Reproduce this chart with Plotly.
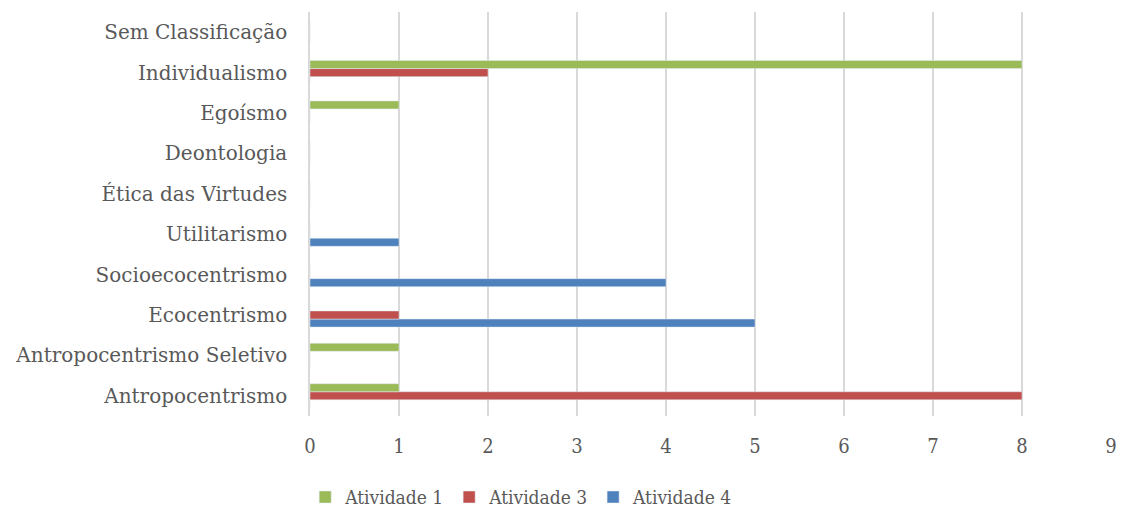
import plotly.graph_objects as go

categories = ["Antropocentrismo", "Antropocentrismo Seletivo", "Ecocentrismo",
              "Socioecocentrismo", "Utilitarismo", "Ética das Virtudes",
              "Deontologia", "Egoísmo", "Individualismo", "Sem Classificação"]
atividade_1 = [1, 1, 0, 0, 0, 0, 0, 1, 8, 0]
atividade_3 = [8, 0, 1, 0, 0, 0, 0, 0, 2, 0]
atividade_4 = [0, 0, 5, 4, 1, 0, 0, 0, 0, 0]
x_ticks = list(range(0, 10))

font_family = "DejaVu Serif"
cond_family = "DejaVu Serif Condensed, DejaVu Serif"
gray = "#595959"

fig = go.Figure()
fig.add_trace(go.Bar(y=categories, x=atividade_4, orientation="h", name="Atividade 4",
                     marker=dict(color="#4F81BD")))
fig.add_trace(go.Bar(y=categories, x=atividade_3, orientation="h", name="Atividade 3",
                     marker=dict(color="#C0504D")))
fig.add_trace(go.Bar(y=categories, x=atividade_1, orientation="h", name="Atividade 1",
                     marker=dict(color="#9BBB59")))

fig.update_layout(
    width=1122, height=512,
    margin=dict(l=310, r=11, t=12, b=96),
    paper_bgcolor="white", plot_bgcolor="white",
    barmode="group", bargap=0.4, bargroupgap=0,
    font=dict(family=font_family, color=gray, size=18),
    showlegend=True,
    legend=dict(orientation="h", traceorder="reversed",
                xref="paper", x=-0.006, xanchor="left",
                yref="container", y=0.029, yanchor="middle",
                font=dict(size=19, color=gray, family=cond_family),
                itemwidth=30, tracegroupgap=0),
)
fig.update_xaxes(range=[0, 9], tickvals=x_ticks, showgrid=True, gridcolor="#d9d9d9",
                 gridwidth=1.5, zeroline=False, showline=False, automargin=False,
                 ticks="", ticklabelstandoff=16,
                 tickfont=dict(size=20, color=gray, family=cond_family))
fig.update_yaxes(showgrid=False, zeroline=False, showline=True, linecolor="#d9d9d9",
                 linewidth=1.5, automargin=False, ticks="",
                 ticklabelstandoff=17, tickfont=dict(size=20, color=gray))

fig.write_html("out.html", config={"displayModeBar": False},
               post_script="document.body.style.margin='0px';document.body.style.overflow='hidden';")
